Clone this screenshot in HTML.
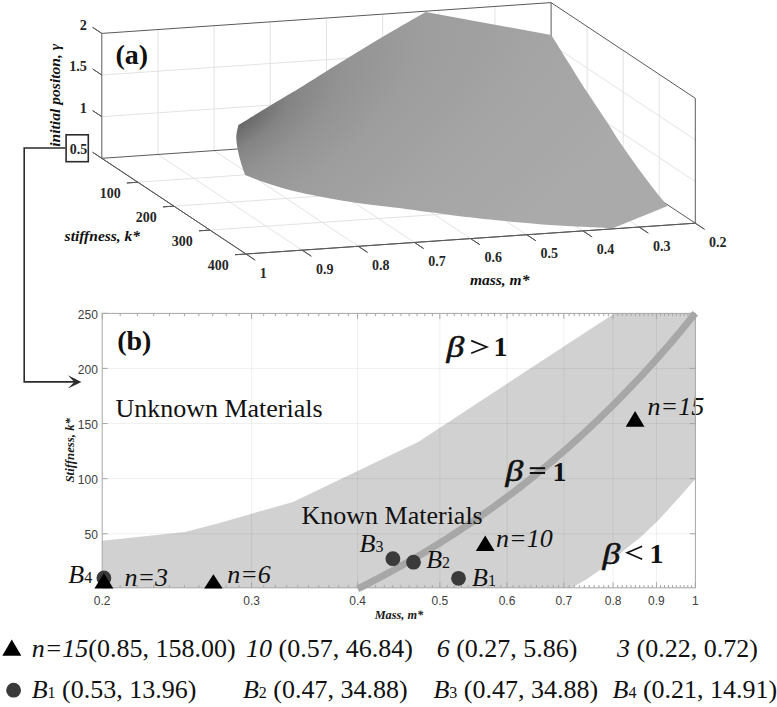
<!DOCTYPE html>
<html><head><meta charset="utf-8"><style>html,body{margin:0;padding:0;background:#fff;}svg{display:block;}</style></head>
<body>
<svg width="777" height="707" viewBox="0 0 777 707">
<defs><radialGradient id="sg" gradientUnits="userSpaceOnUse" cx="0" cy="0" r="1" gradientTransform="translate(236 122) rotate(-31.2) scale(600 250)"><stop offset="0" stop-color="#626262"/><stop offset="0.1" stop-color="#848484"/><stop offset="0.2" stop-color="#939393"/><stop offset="0.35" stop-color="#9d9d9d"/><stop offset="0.6" stop-color="#a4a4a4"/><stop offset="1" stop-color="#aaaaaa"/></radialGradient></defs>
<rect width="777" height="707" fill="#fff"/>
<line x1="157.96" y1="154.45" x2="157.96" y2="29.55" stroke="#e3e3e3" stroke-width="1"/>
<line x1="214.12" y1="150.6" x2="214.12" y2="25.7" stroke="#e3e3e3" stroke-width="1"/>
<line x1="270.29" y1="146.75" x2="270.29" y2="21.85" stroke="#e3e3e3" stroke-width="1"/>
<line x1="326.45" y1="142.9" x2="326.45" y2="18" stroke="#e3e3e3" stroke-width="1"/>
<line x1="382.61" y1="139.05" x2="382.61" y2="14.15" stroke="#e3e3e3" stroke-width="1"/>
<line x1="438.77" y1="135.2" x2="438.77" y2="10.3" stroke="#e3e3e3" stroke-width="1"/>
<line x1="494.94" y1="131.35" x2="494.94" y2="6.45" stroke="#e3e3e3" stroke-width="1"/>
<line x1="101.8" y1="116.67" x2="551.1" y2="85.87" stroke="#e3e3e3" stroke-width="1"/>
<line x1="101.8" y1="75.03" x2="551.1" y2="44.23" stroke="#e3e3e3" stroke-width="1"/>
<line x1="587.15" y1="151.43" x2="587.15" y2="26.53" stroke="#e3e3e3" stroke-width="1"/>
<line x1="623.2" y1="175.35" x2="623.2" y2="50.45" stroke="#e3e3e3" stroke-width="1"/>
<line x1="659.25" y1="199.28" x2="659.25" y2="74.38" stroke="#e3e3e3" stroke-width="1"/>
<line x1="551.1" y1="85.87" x2="695.3" y2="181.57" stroke="#e3e3e3" stroke-width="1"/>
<line x1="551.1" y1="44.23" x2="695.3" y2="139.93" stroke="#e3e3e3" stroke-width="1"/>
<line x1="157.96" y1="154.45" x2="302.16" y2="250.15" stroke="#e3e3e3" stroke-width="1"/>
<line x1="214.12" y1="150.6" x2="358.32" y2="246.3" stroke="#e3e3e3" stroke-width="1"/>
<line x1="270.29" y1="146.75" x2="414.49" y2="242.45" stroke="#e3e3e3" stroke-width="1"/>
<line x1="326.45" y1="142.9" x2="470.65" y2="238.6" stroke="#e3e3e3" stroke-width="1"/>
<line x1="382.61" y1="139.05" x2="526.81" y2="234.75" stroke="#e3e3e3" stroke-width="1"/>
<line x1="438.77" y1="135.2" x2="582.97" y2="230.9" stroke="#e3e3e3" stroke-width="1"/>
<line x1="494.94" y1="131.35" x2="639.14" y2="227.05" stroke="#e3e3e3" stroke-width="1"/>
<line x1="137.85" y1="182.23" x2="587.15" y2="151.43" stroke="#e3e3e3" stroke-width="1"/>
<line x1="173.9" y1="206.15" x2="623.2" y2="175.35" stroke="#e3e3e3" stroke-width="1"/>
<line x1="209.95" y1="230.08" x2="659.25" y2="199.28" stroke="#e3e3e3" stroke-width="1"/>
<line x1="101.8" y1="33.4" x2="551.1" y2="2.6" stroke="#5a5a5a" stroke-width="1"/>
<line x1="551.1" y1="2.6" x2="695.3" y2="98.3" stroke="#5a5a5a" stroke-width="1"/>
<line x1="101.8" y1="158.3" x2="101.8" y2="33.4" stroke="#5a5a5a" stroke-width="1"/>
<line x1="695.3" y1="223.2" x2="695.3" y2="98.3" stroke="#5a5a5a" stroke-width="1"/>
<line x1="551.1" y1="127.5" x2="551.1" y2="2.6" stroke="#5a5a5a" stroke-width="1"/>
<line x1="101.8" y1="158.3" x2="551.1" y2="127.5" stroke="#5a5a5a" stroke-width="1"/>
<line x1="551.1" y1="127.5" x2="695.3" y2="223.2" stroke="#5a5a5a" stroke-width="1"/>
<line x1="101.8" y1="158.3" x2="246" y2="254" stroke="#5a5a5a" stroke-width="1"/>
<line x1="246" y1="254" x2="695.3" y2="223.2" stroke="#5a5a5a" stroke-width="1"/>
<line x1="101.8" y1="158.3" x2="92.63" y2="152.22" stroke="#5a5a5a" stroke-width="1"/>
<line x1="101.8" y1="116.67" x2="92.63" y2="110.58" stroke="#5a5a5a" stroke-width="1"/>
<line x1="101.8" y1="75.03" x2="92.63" y2="68.95" stroke="#5a5a5a" stroke-width="1"/>
<line x1="101.8" y1="33.4" x2="92.63" y2="27.32" stroke="#5a5a5a" stroke-width="1"/>
<line x1="137.85" y1="182.23" x2="126.88" y2="182.98" stroke="#5a5a5a" stroke-width="1"/>
<line x1="173.9" y1="206.15" x2="162.93" y2="206.9" stroke="#5a5a5a" stroke-width="1"/>
<line x1="209.95" y1="230.08" x2="198.98" y2="230.83" stroke="#5a5a5a" stroke-width="1"/>
<line x1="246" y1="254" x2="235.03" y2="254.75" stroke="#5a5a5a" stroke-width="1"/>
<line x1="246" y1="254" x2="255.17" y2="260.08" stroke="#5a5a5a" stroke-width="1"/>
<line x1="302.16" y1="250.15" x2="311.33" y2="256.23" stroke="#5a5a5a" stroke-width="1"/>
<line x1="358.32" y1="246.3" x2="367.49" y2="252.38" stroke="#5a5a5a" stroke-width="1"/>
<line x1="414.49" y1="242.45" x2="423.65" y2="248.53" stroke="#5a5a5a" stroke-width="1"/>
<line x1="470.65" y1="238.6" x2="479.82" y2="244.68" stroke="#5a5a5a" stroke-width="1"/>
<line x1="526.81" y1="234.75" x2="535.98" y2="240.83" stroke="#5a5a5a" stroke-width="1"/>
<line x1="582.97" y1="230.9" x2="592.14" y2="236.98" stroke="#5a5a5a" stroke-width="1"/>
<line x1="639.14" y1="227.05" x2="648.3" y2="233.13" stroke="#5a5a5a" stroke-width="1"/>
<line x1="695.3" y1="223.2" x2="704.47" y2="229.28" stroke="#5a5a5a" stroke-width="1"/>
<path d="M238.4 125.1 C243.58 121.92 259.23 112.22 269.5 106 C279.77 99.78 288.05 95.13 300 87.8 C311.95 80.47 327.47 70.47 341.2 62 C354.93 53.53 368.33 45.35 382.4 37 C396.47 28.65 418.4 16.08 425.6 11.9 L551.2 35 C554.52 40.28 565.18 57.27 571.1 66.7 C577.02 76.13 581 82.78 586.7 91.6 C592.4 100.42 599.6 110.9 605.3 119.6 C611 128.3 615.7 136.07 620.9 143.8 C626.1 151.53 631.32 158.83 636.5 166 C641.68 173.17 646.82 180.12 652 186.8 C657.18 193.48 665 202.88 667.6 206.1 L613.4 228.1 C609.65 227.95 600.02 227.62 590.9 227.2 C581.78 226.78 569.43 226.3 558.7 225.6 C547.97 224.9 537.22 223.92 526.5 223 C515.78 222.08 505.12 221.17 494.4 220.1 C483.68 219.03 471.27 217.7 462.2 216.6 C453.13 215.5 447 214.43 440 213.5 C433 212.57 427.8 211.98 420.2 211 C412.6 210.02 402.98 208.68 394.4 207.6 C385.82 206.52 377.27 205.65 368.7 204.5 C360.13 203.35 351.58 202.12 343 200.7 C334.42 199.28 325.78 197.72 317.2 196 C308.62 194.28 300.08 192.62 291.5 190.4 C282.92 188.18 273.43 185.28 265.7 182.7 C257.97 180.12 248.53 176.2 245.1 174.9 C244.45 173 242.43 167.75 241.2 163.5 C239.97 159.25 238.52 153.87 237.7 149.4 C236.88 144.93 236.18 140.75 236.3 136.7 C236.42 132.65 238.05 127.03 238.4 125.1 Z" fill="url(#sg)"/>
<line x1="101.8" y1="158.3" x2="246" y2="254" stroke="#5a5a5a" stroke-width="1"/>
<line x1="246" y1="254" x2="695.3" y2="223.2" stroke="#5a5a5a" stroke-width="1"/>
<line x1="101.8" y1="158.3" x2="92.63" y2="152.22" stroke="#5a5a5a" stroke-width="1"/>
<line x1="101.8" y1="116.67" x2="92.63" y2="110.58" stroke="#5a5a5a" stroke-width="1"/>
<line x1="101.8" y1="75.03" x2="92.63" y2="68.95" stroke="#5a5a5a" stroke-width="1"/>
<line x1="101.8" y1="33.4" x2="92.63" y2="27.32" stroke="#5a5a5a" stroke-width="1"/>
<line x1="137.85" y1="182.23" x2="126.88" y2="182.98" stroke="#5a5a5a" stroke-width="1"/>
<line x1="173.9" y1="206.15" x2="162.93" y2="206.9" stroke="#5a5a5a" stroke-width="1"/>
<line x1="209.95" y1="230.08" x2="198.98" y2="230.83" stroke="#5a5a5a" stroke-width="1"/>
<line x1="246" y1="254" x2="235.03" y2="254.75" stroke="#5a5a5a" stroke-width="1"/>
<line x1="246" y1="254" x2="255.17" y2="260.08" stroke="#5a5a5a" stroke-width="1"/>
<line x1="302.16" y1="250.15" x2="311.33" y2="256.23" stroke="#5a5a5a" stroke-width="1"/>
<line x1="358.32" y1="246.3" x2="367.49" y2="252.38" stroke="#5a5a5a" stroke-width="1"/>
<line x1="414.49" y1="242.45" x2="423.65" y2="248.53" stroke="#5a5a5a" stroke-width="1"/>
<line x1="470.65" y1="238.6" x2="479.82" y2="244.68" stroke="#5a5a5a" stroke-width="1"/>
<line x1="526.81" y1="234.75" x2="535.98" y2="240.83" stroke="#5a5a5a" stroke-width="1"/>
<line x1="582.97" y1="230.9" x2="592.14" y2="236.98" stroke="#5a5a5a" stroke-width="1"/>
<line x1="639.14" y1="227.05" x2="648.3" y2="233.13" stroke="#5a5a5a" stroke-width="1"/>
<line x1="695.3" y1="223.2" x2="704.47" y2="229.28" stroke="#5a5a5a" stroke-width="1"/>
<text x="87" y="29.5" font-family="Liberation Serif" font-size="14.3" font-weight="bold" font-style="normal" text-anchor="end" fill="#262626">2</text>
<text x="87" y="71.13" font-family="Liberation Serif" font-size="14.3" font-weight="bold" font-style="normal" text-anchor="end" fill="#262626">1.5</text>
<text x="87" y="112.77" font-family="Liberation Serif" font-size="14.3" font-weight="bold" font-style="normal" text-anchor="end" fill="#262626">1</text>
<text x="87.2" y="154.3" font-family="Liberation Serif" font-size="14" font-weight="bold" font-style="normal" text-anchor="end" fill="#262626">0.5</text>
<text x="120.65" y="197.83" font-family="Liberation Serif" font-size="14" font-weight="bold" font-style="normal" text-anchor="end" fill="#262626">100</text>
<text x="156.7" y="221.75" font-family="Liberation Serif" font-size="14" font-weight="bold" font-style="normal" text-anchor="end" fill="#262626">200</text>
<text x="192.75" y="245.68" font-family="Liberation Serif" font-size="14" font-weight="bold" font-style="normal" text-anchor="end" fill="#262626">300</text>
<text x="228.8" y="269.6" font-family="Liberation Serif" font-size="14" font-weight="bold" font-style="normal" text-anchor="end" fill="#262626">400</text>
<text x="259.8" y="277.5" font-family="Liberation Serif" font-size="14" font-weight="bold" font-style="normal" text-anchor="start" fill="#262626">1</text>
<text x="315.96" y="273.65" font-family="Liberation Serif" font-size="14" font-weight="bold" font-style="normal" text-anchor="start" fill="#262626">0.9</text>
<text x="372.12" y="269.8" font-family="Liberation Serif" font-size="14" font-weight="bold" font-style="normal" text-anchor="start" fill="#262626">0.8</text>
<text x="428.29" y="265.95" font-family="Liberation Serif" font-size="14" font-weight="bold" font-style="normal" text-anchor="start" fill="#262626">0.7</text>
<text x="484.45" y="262.1" font-family="Liberation Serif" font-size="14" font-weight="bold" font-style="normal" text-anchor="start" fill="#262626">0.6</text>
<text x="540.61" y="258.25" font-family="Liberation Serif" font-size="14" font-weight="bold" font-style="normal" text-anchor="start" fill="#262626">0.5</text>
<text x="596.77" y="254.4" font-family="Liberation Serif" font-size="14" font-weight="bold" font-style="normal" text-anchor="start" fill="#262626">0.4</text>
<text x="652.94" y="250.55" font-family="Liberation Serif" font-size="14" font-weight="bold" font-style="normal" text-anchor="start" fill="#262626">0.3</text>
<text x="709.1" y="246.7" font-family="Liberation Serif" font-size="14" font-weight="bold" font-style="normal" text-anchor="start" fill="#262626">0.2</text>
<text x="64.6" y="241.1" font-family="Liberation Serif" font-size="15.5" font-weight="bold" font-style="italic" text-anchor="start" fill="#111">stiffness, <tspan>k*</tspan></text>
<text x="470" y="284.9" font-family="Liberation Serif" font-size="15.5" font-weight="bold" font-style="italic" text-anchor="start" fill="#111">mass, m*</text>
<text x="0" y="0" font-family="Liberation Serif" font-size="15.6" font-weight="bold" font-style="italic" text-anchor="start" fill="#111" transform="translate(59.9 146.8) rotate(-90)">initial positon, γ</text>
<text x="115.5" y="63.5" font-family="Liberation Serif" font-size="28" font-weight="bold" font-style="normal" text-anchor="start" fill="#111">(a)</text>
<path d="M102.2 540.8 L184.9 532 L217.8 523.5 L293 501.9 L418.6 441.7 L614.3 313.4 L695.4 313.4 L695.4 479 L677.1 499.7 L659.1 519.5 L641.1 536.7 L623.1 551.1 L605 566.4 L587 579 L574.4 586.2 L571.5 587.8 L102.2 587.8 Z" fill="#d1d1d1"/>
<line x1="251.61" y1="313.4" x2="251.61" y2="587.8" stroke="rgba(38,38,38,0.07)" stroke-width="1"/>
<line x1="357.62" y1="313.4" x2="357.62" y2="587.8" stroke="rgba(38,38,38,0.07)" stroke-width="1"/>
<line x1="439.85" y1="313.4" x2="439.85" y2="587.8" stroke="rgba(38,38,38,0.07)" stroke-width="1"/>
<line x1="507.04" y1="313.4" x2="507.04" y2="587.8" stroke="rgba(38,38,38,0.07)" stroke-width="1"/>
<line x1="563.84" y1="313.4" x2="563.84" y2="587.8" stroke="rgba(38,38,38,0.07)" stroke-width="1"/>
<line x1="613.05" y1="313.4" x2="613.05" y2="587.8" stroke="rgba(38,38,38,0.07)" stroke-width="1"/>
<line x1="656.45" y1="313.4" x2="656.45" y2="587.8" stroke="rgba(38,38,38,0.07)" stroke-width="1"/>
<line x1="102.2" y1="533.78" x2="695.4" y2="533.78" stroke="rgba(38,38,38,0.07)" stroke-width="1"/>
<line x1="102.2" y1="478.66" x2="695.4" y2="478.66" stroke="rgba(38,38,38,0.07)" stroke-width="1"/>
<line x1="102.2" y1="423.54" x2="695.4" y2="423.54" stroke="rgba(38,38,38,0.07)" stroke-width="1"/>
<line x1="102.2" y1="368.42" x2="695.4" y2="368.42" stroke="rgba(38,38,38,0.07)" stroke-width="1"/>
<path d="M357.62 588.9 L366.72 584.31 L375.6 579.71 L384.27 575.12 L392.75 570.53 L401.03 565.93 L409.13 561.34 L417.05 556.75 L424.81 552.15 L432.41 547.56 L439.85 542.97 L447.15 538.37 L454.3 533.78 L461.32 529.19 L468.21 524.59 L474.97 520 L481.61 515.41 L488.14 510.81 L494.54 506.22 L500.84 501.63 L507.04 497.03 L513.13 492.44 L519.12 487.85 L525.02 483.25 L530.82 478.66 L536.53 474.07 L542.16 469.47 L547.7 464.88 L553.16 460.29 L558.54 455.69 L563.84 451.1 L569.07 446.51 L574.22 441.91 L579.31 437.32 L584.32 432.73 L589.27 428.13 L594.15 423.54 L598.96 418.95 L603.72 414.35 L608.41 409.76 L613.05 405.17 L617.63 400.57 L622.15 395.98 L626.61 391.39 L631.03 386.79 L635.39 382.2 L639.7 377.61 L643.96 373.01 L648.17 368.42 L652.33 363.83 L656.45 359.23 L660.52 354.64 L664.55 350.05 L668.53 345.45 L672.48 340.86 L676.37 336.27 L680.23 331.67 L684.05 327.08 L687.83 322.49 L691.57 317.89 L695.28 313.3" fill="none" stroke="#a7a7a7" stroke-width="7"/>
<rect x="102.2" y="313.4" width="593.2" height="274.4" fill="none" stroke="#a6a6a6" stroke-width="1"/>
<path d="M102.2 587.8v-5.5M102.2 313.4v5.5M251.61 587.8v-5.5M251.61 313.4v5.5M357.62 587.8v-5.5M357.62 313.4v5.5M439.85 587.8v-5.5M439.85 313.4v5.5M507.04 587.8v-5.5M507.04 313.4v5.5M563.84 587.8v-5.5M563.84 313.4v5.5M613.05 587.8v-5.5M613.05 313.4v5.5M656.45 587.8v-5.5M656.45 313.4v5.5M695.28 587.8v-5.5M695.28 313.4v5.5M120.18 587.8v-2.8M120.18 313.4v2.8M137.32 587.8v-2.8M137.32 313.4v2.8M153.7 587.8v-2.8M153.7 313.4v2.8M169.39 587.8v-2.8M169.39 313.4v2.8M184.43 587.8v-2.8M184.43 313.4v2.8M198.88 587.8v-2.8M198.88 313.4v2.8M212.79 587.8v-2.8M212.79 313.4v2.8M226.19 587.8v-2.8M226.19 313.4v2.8M239.12 587.8v-2.8M239.12 313.4v2.8M263.7 587.8v-2.8M263.7 313.4v2.8M275.4 587.8v-2.8M275.4 313.4v2.8M286.74 587.8v-2.8M286.74 313.4v2.8M297.74 587.8v-2.8M297.74 313.4v2.8M308.42 587.8v-2.8M308.42 313.4v2.8M318.8 587.8v-2.8M318.8 313.4v2.8M328.9 587.8v-2.8M328.9 313.4v2.8M338.72 587.8v-2.8M338.72 313.4v2.8M348.29 587.8v-2.8M348.29 313.4v2.8M366.72 587.8v-2.8M366.72 313.4v2.8M375.6 587.8v-2.8M375.6 313.4v2.8M384.27 587.8v-2.8M384.27 313.4v2.8M392.75 587.8v-2.8M392.75 313.4v2.8M401.03 587.8v-2.8M401.03 313.4v2.8M409.13 587.8v-2.8M409.13 313.4v2.8M417.05 587.8v-2.8M417.05 313.4v2.8M424.81 587.8v-2.8M424.81 313.4v2.8M432.41 587.8v-2.8M432.41 313.4v2.8M447.15 587.8v-2.8M447.15 313.4v2.8M454.3 587.8v-2.8M454.3 313.4v2.8M461.32 587.8v-2.8M461.32 313.4v2.8M468.21 587.8v-2.8M468.21 313.4v2.8M474.97 587.8v-2.8M474.97 313.4v2.8M481.61 587.8v-2.8M481.61 313.4v2.8M488.14 587.8v-2.8M488.14 313.4v2.8M494.54 587.8v-2.8M494.54 313.4v2.8M500.84 587.8v-2.8M500.84 313.4v2.8M513.13 587.8v-2.8M513.13 313.4v2.8M519.12 587.8v-2.8M519.12 313.4v2.8M525.02 587.8v-2.8M525.02 313.4v2.8M530.82 587.8v-2.8M530.82 313.4v2.8M536.53 587.8v-2.8M536.53 313.4v2.8M542.16 587.8v-2.8M542.16 313.4v2.8M547.7 587.8v-2.8M547.7 313.4v2.8M553.16 587.8v-2.8M553.16 313.4v2.8M558.54 587.8v-2.8M558.54 313.4v2.8M569.07 587.8v-2.8M569.07 313.4v2.8M574.22 587.8v-2.8M574.22 313.4v2.8M579.31 587.8v-2.8M579.31 313.4v2.8M584.32 587.8v-2.8M584.32 313.4v2.8M589.27 587.8v-2.8M589.27 313.4v2.8M594.15 587.8v-2.8M594.15 313.4v2.8M598.96 587.8v-2.8M598.96 313.4v2.8M603.72 587.8v-2.8M603.72 313.4v2.8M608.41 587.8v-2.8M608.41 313.4v2.8M617.63 587.8v-2.8M617.63 313.4v2.8M622.15 587.8v-2.8M622.15 313.4v2.8M626.61 587.8v-2.8M626.61 313.4v2.8M631.03 587.8v-2.8M631.03 313.4v2.8M635.39 587.8v-2.8M635.39 313.4v2.8M639.7 587.8v-2.8M639.7 313.4v2.8M643.96 587.8v-2.8M643.96 313.4v2.8M648.17 587.8v-2.8M648.17 313.4v2.8M652.33 587.8v-2.8M652.33 313.4v2.8M660.52 587.8v-2.8M660.52 313.4v2.8M664.55 587.8v-2.8M664.55 313.4v2.8M668.53 587.8v-2.8M668.53 313.4v2.8M672.48 587.8v-2.8M672.48 313.4v2.8M676.37 587.8v-2.8M676.37 313.4v2.8M680.23 587.8v-2.8M680.23 313.4v2.8M684.05 587.8v-2.8M684.05 313.4v2.8M687.83 587.8v-2.8M687.83 313.4v2.8M691.57 587.8v-2.8M691.57 313.4v2.8M102.2 533.78h5.5M695.4 533.78h-5.5M102.2 478.66h5.5M695.4 478.66h-5.5M102.2 423.54h5.5M695.4 423.54h-5.5M102.2 368.42h5.5M695.4 368.42h-5.5M102.2 313.3h5.5M695.4 313.3h-5.5" stroke="#a6a6a6" stroke-width="1" fill="none"/>
<text x="102.2" y="605.1" font-family="Liberation Sans" font-size="12" font-weight="normal" font-style="normal" text-anchor="middle" fill="#404040">0.2</text>
<text x="251.61" y="605.1" font-family="Liberation Sans" font-size="12" font-weight="normal" font-style="normal" text-anchor="middle" fill="#404040">0.3</text>
<text x="357.62" y="605.1" font-family="Liberation Sans" font-size="12" font-weight="normal" font-style="normal" text-anchor="middle" fill="#404040">0.4</text>
<text x="439.85" y="605.1" font-family="Liberation Sans" font-size="12" font-weight="normal" font-style="normal" text-anchor="middle" fill="#404040">0.5</text>
<text x="507.04" y="605.1" font-family="Liberation Sans" font-size="12" font-weight="normal" font-style="normal" text-anchor="middle" fill="#404040">0.6</text>
<text x="563.84" y="605.1" font-family="Liberation Sans" font-size="12" font-weight="normal" font-style="normal" text-anchor="middle" fill="#404040">0.7</text>
<text x="613.05" y="605.1" font-family="Liberation Sans" font-size="12" font-weight="normal" font-style="normal" text-anchor="middle" fill="#404040">0.8</text>
<text x="656.45" y="605.1" font-family="Liberation Sans" font-size="12" font-weight="normal" font-style="normal" text-anchor="middle" fill="#404040">0.9</text>
<text x="695.28" y="605.1" font-family="Liberation Sans" font-size="12" font-weight="normal" font-style="normal" text-anchor="middle" fill="#404040">1</text>
<text x="97.9" y="539.48" font-family="Liberation Sans" font-size="12" font-weight="normal" font-style="normal" text-anchor="end" fill="#404040">50</text>
<text x="97.9" y="484.36" font-family="Liberation Sans" font-size="12" font-weight="normal" font-style="normal" text-anchor="end" fill="#404040">100</text>
<text x="97.9" y="429.24" font-family="Liberation Sans" font-size="12" font-weight="normal" font-style="normal" text-anchor="end" fill="#404040">150</text>
<text x="97.9" y="374.12" font-family="Liberation Sans" font-size="12" font-weight="normal" font-style="normal" text-anchor="end" fill="#404040">200</text>
<text x="97.9" y="319" font-family="Liberation Sans" font-size="12" font-weight="normal" font-style="normal" text-anchor="end" fill="#404040">250</text>
<text x="374.7" y="618.7" font-family="Liberation Serif" font-size="12.3" font-weight="bold" font-style="italic" text-anchor="start" fill="#1a1a1a">Mass, m*</text>
<text x="0" y="0" font-family="Liberation Serif" font-size="12.8" font-weight="bold" font-style="italic" text-anchor="start" fill="#1a1a1a" transform="translate(74.2 482.5) rotate(-90)">Stiffness, k*</text>
<circle cx="103.9" cy="578" r="7.4" fill="#3a3a3a"/>
<path d="M103.9 573.2 L113.4 588.4 L94.4 588.4 Z" fill="#000"/>
<path d="M213.4 574.2 L222.65 588.6 L204.15 588.6 Z" fill="#000"/>
<path d="M485.2 535.6 L494.6 551 L475.8 551 Z" fill="#000"/>
<path d="M635.1 411 L644.5 426.7 L625.7 426.7 Z" fill="#000"/>
<circle cx="392.9" cy="558.7" r="7.4" fill="#3a3a3a"/>
<circle cx="413.5" cy="562.2" r="7.4" fill="#3a3a3a"/>
<circle cx="458.5" cy="578.3" r="7.4" fill="#3a3a3a"/>
<text x="117.2" y="349.5" font-family="Liberation Serif" font-size="28" font-weight="bold" font-style="normal" text-anchor="start" fill="#111">(b)</text>
<text x="115.4" y="416.7" font-family="Liberation Serif" font-size="26" font-weight="normal" font-style="normal" text-anchor="start" fill="#111">Unknown Materials</text>
<text x="301.5" y="523.8" font-family="Liberation Serif" font-size="26" font-weight="normal" font-style="normal" text-anchor="start" fill="#111">Known Materials</text>
<text x="68.3" y="583.1" font-family="Liberation Serif" font-size="26" font-weight="normal" font-style="italic" text-anchor="start" fill="#111">B<tspan font-style="normal" font-size="16">4</tspan></text>
<text x="359.6" y="552.4" font-family="Liberation Serif" font-size="26" font-weight="normal" font-style="italic" text-anchor="start" fill="#111">B<tspan font-style="normal" font-size="16">3</tspan></text>
<text x="426.2" y="567.5" font-family="Liberation Serif" font-size="26" font-weight="normal" font-style="italic" text-anchor="start" fill="#111">B<tspan font-style="normal" font-size="16">2</tspan></text>
<text x="472" y="585.5" font-family="Liberation Serif" font-size="26" font-weight="normal" font-style="italic" text-anchor="start" fill="#111">B<tspan font-style="normal" font-size="16">1</tspan></text>
<text x="124.5" y="585.5" font-family="Liberation Serif" font-size="26" font-weight="normal" font-style="italic" text-anchor="start" fill="#111">n=3</text>
<text x="227.3" y="582.9" font-family="Liberation Serif" font-size="26" font-weight="normal" font-style="italic" text-anchor="start" fill="#111">n=6</text>
<text x="496.1" y="546.9" font-family="Liberation Serif" font-size="26" font-weight="normal" font-style="italic" text-anchor="start" fill="#111">n=10</text>
<text x="647.6" y="415.4" font-family="Liberation Serif" font-size="26" font-weight="normal" font-style="italic" text-anchor="start" fill="#111">n=15</text>
<text font-family="Liberation Serif" font-size="28.5" font-weight="normal" font-style="italic" fill="#111" stroke="#111" stroke-width="0.55" transform="translate(446.6 357.3) scale(1.25 1.04)">β</text>
<text font-family="Liberation Serif" font-size="28.5" font-weight="normal" font-style="italic" fill="#111" stroke="#111" stroke-width="0.55" transform="translate(505.5 481) scale(1.25 1.04)">β</text>
<text font-family="Liberation Serif" font-size="28.5" font-weight="normal" font-style="italic" fill="#111" stroke="#111" stroke-width="0.55" transform="translate(602.4 564) scale(1.25 1.04)">β</text>
<path d="M471.2 340.6 L486.8 347 L471.2 353.3" fill="none" stroke="#111" stroke-width="1.7" stroke-linejoin="miter"/>
<path d="M642.2 546.3 L627.2 552.8 L642.2 559.3" fill="none" stroke="#111" stroke-width="1.7" stroke-linejoin="miter"/>
<rect x="529.8" y="467.2" width="15.3" height="2" fill="#111"/><rect x="529.8" y="472" width="15.3" height="2" fill="#111"/>
<text x="493.6" y="356.4" font-family="Liberation Serif" font-size="28" font-weight="bold" font-style="normal" text-anchor="start" fill="#111">1</text>
<text x="552.6" y="480.6" font-family="Liberation Serif" font-size="28" font-weight="bold" font-style="normal" text-anchor="start" fill="#111">1</text>
<text x="649.4" y="563.1" font-family="Liberation Serif" font-size="28" font-weight="bold" font-style="normal" text-anchor="start" fill="#111">1</text>
<line x1="695.4" y1="395" x2="695.4" y2="425" stroke="#a6a6a6" stroke-width="1"/>
<rect x="66.1" y="134.8" width="22.2" height="26.9" fill="none" stroke="#2b2b2b" stroke-width="1.6"/>
<path d="M65.4 148 H24.2 V381.9 H75" fill="none" stroke="#2b2b2b" stroke-width="1.6"/>
<path d="M81.4 381.9 L67.9 375.2 L74.3 381.9 L67.9 388.6 Z" fill="#2b2b2b"/>
<path d="M11.8 639.6 L21.3 655.8 L2.3 655.8 Z" fill="#000"/>
<circle cx="13.6" cy="690.2" r="7.4" fill="#3a3a3a"/>
<text x="31.7" y="656.9" font-family="Liberation Serif" font-size="26" font-weight="normal" font-style="italic" text-anchor="start" fill="#111" xml:space="preserve">n=15<tspan font-style="normal">(0.85, 158.00)</tspan></text>
<text x="246" y="656.9" font-family="Liberation Serif" font-size="26" font-weight="normal" font-style="italic" text-anchor="start" fill="#111" xml:space="preserve">10<tspan font-style="normal"> (0.57, 46.84)</tspan></text>
<text x="436.7" y="656.9" font-family="Liberation Serif" font-size="26" font-weight="normal" font-style="italic" text-anchor="start" fill="#111" xml:space="preserve">6<tspan font-style="normal"> (0.27, 5.86)</tspan></text>
<text x="617.1" y="656.9" font-family="Liberation Serif" font-size="26" font-weight="normal" font-style="italic" text-anchor="start" fill="#111" xml:space="preserve">3<tspan font-style="normal"> (0.22, 0.72)</tspan></text>
<text x="31.7" y="698.3" font-family="Liberation Serif" font-size="26" font-weight="normal" font-style="italic" text-anchor="start" fill="#111" xml:space="preserve">B<tspan font-style="normal" font-size="16">1</tspan><tspan font-style="normal"> (0.53, 13.96)</tspan></text>
<text x="242.9" y="698.3" font-family="Liberation Serif" font-size="26" font-weight="normal" font-style="italic" text-anchor="start" fill="#111" xml:space="preserve">B<tspan font-style="normal" font-size="16">2</tspan><tspan font-style="normal"> (0.47, 34.88)</tspan></text>
<text x="433.4" y="698.3" font-family="Liberation Serif" font-size="26" font-weight="normal" font-style="italic" text-anchor="start" fill="#111" xml:space="preserve">B<tspan font-style="normal" font-size="16">3</tspan><tspan font-style="normal"> (0.47, 34.88)</tspan></text>
<text x="612.5" y="698.3" font-family="Liberation Serif" font-size="26" font-weight="normal" font-style="italic" text-anchor="start" fill="#111" xml:space="preserve">B<tspan font-style="normal" font-size="16">4</tspan><tspan font-style="normal"> (0.21, 14.91)</tspan></text>
</svg>
</body></html>
